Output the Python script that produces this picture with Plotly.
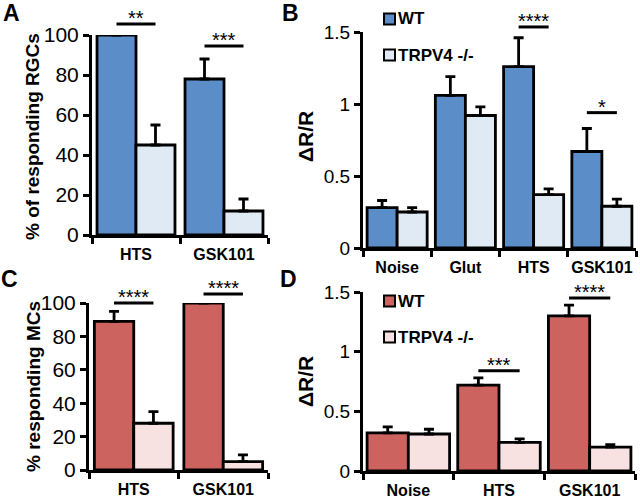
import plotly.graph_objects as go

W, H = 640, 502
FONT = "Liberation Sans, Arial, sans-serif"
BLUE, LBLUE = "#5b8dc9", "#e0eaf4"
RED, PINK = "#cd635f", "#f7e2e1"

# A: % of responding RGCs
catsA = ["HTS", "GSK101"]
wtA = [100, 78]
wtA_err = [0, 10]
koA = [45, 12]
koA_err = [10, 6]

# B: RGC dR/R
catsB = ["Noise", "Glut", "HTS", "GSK101"]
wtB = [0.28, 1.06, 1.26, 0.67]
wtB_err = [0.05, 0.13, 0.20, 0.16]
koB = [0.25, 0.92, 0.37, 0.29]
koB_err = [0.03, 0.06, 0.04, 0.05]

# C: % responding MCs
catsC = ["HTS", "GSK101"]
wtC = [89, 100]
wtC_err = [6, 0]
koC = [28, 5]
koC_err = [7, 4]

# D: MC dR/R
catsD = ["Noise", "HTS", "GSK101"]
wtD = [0.32, 0.72, 1.30]
wtD_err = [0.05, 0.06, 0.09]
koD = [0.31, 0.24, 0.20]
koD_err = [0.04, 0.03, 0.02]

# significance: (category index, bar height, stars)
sigA = [(0, 105.5, "**"), (1, 94.5, "***")]
sigB = [(2, 1.535, "****"), (3, 0.94, "*")]
sigC = [(0, 100, "****"), (1, 105.4, "****")]
sigD = [(1, 0.84, "***"), (2, 1.45, "****")]


def px_x(p):
    return p / W


def px_y(p):
    return 1 - p / H


panels = [
    dict(n="", cats=catsA, wt=wtA, wte=wtA_err, ko=koA, koe=koA_err, sig=sigA,
         c1=BLUE, c2=LBLUE, xp=(92, 268), yp=(235, 35), ymax=100, dt=20, bw=0.443, fs=21),
    dict(n="2", cats=catsB, wt=wtB, wte=wtB_err, ko=koB, koe=koB_err, sig=sigB,
         c1=BLUE, c2=LBLUE, xp=(363, 636), yp=(248, 32), ymax=1.5, dt=0.5, bw=0.44, fs=19),
    dict(n="3", cats=catsC, wt=wtC, wte=wtC_err, ko=koC, koe=koC_err, sig=sigC,
         c1=RED, c2=PINK, xp=(89, 268), yp=(470, 303), ymax=100, dt=20, bw=0.44, fs=21),
    dict(n="4", cats=catsD, wt=wtD, wte=wtD_err, ko=koD, koe=koD_err, sig=sigD,
         c1=RED, c2=PINK, xp=(363, 635), yp=(471, 292), ymax=1.5, dt=0.5, bw=0.455, fs=19),
]

fig = go.Figure()
shapes = []
annos = []
layout = {}

for p in panels:
    xa, ya = "x" + p["n"], "y" + p["n"]
    for vals, errs, col, off, name in [(p["wt"], p["wte"], p["c1"], -p["bw"], "WT"),
                                       (p["ko"], p["koe"], p["c2"], 0, "TRPV4 -/-")]:
        fig.add_trace(go.Bar(
            x=p["cats"], y=vals, name=name, xaxis=xa, yaxis=ya,
            width=p["bw"], offset=off, showlegend=False,
            marker=dict(color=col, line=dict(color="black", width=2.8)),
            error_y=dict(type="data", symmetric=False, array=errs,
                         arrayminus=[0] * len(errs), color="black",
                         thickness=2.8, width=5),
        ))
    y0, y1 = px_y(p["yp"][0]), px_y(p["yp"][1])
    layout["xaxis" + p["n"]] = dict(
        domain=[px_x(p["xp"][0]), px_x(p["xp"][1])], anchor=ya,
        range=[-0.5, len(p["cats"]) - 0.5], type="category", automargin=False,
        showline=True, linewidth=3, linecolor="black", showgrid=False,
        ticks="outside", tickson="boundaries", ticklen=6, tickwidth=2.5,
        tickcolor="black", ticklabelstandoff=3, tickangle=0,
        tickfont=dict(family=FONT, size=16, color="black", weight="bold"),
    )
    layout["yaxis" + p["n"]] = dict(
        domain=[y0, y1], anchor=xa, range=[0, p["ymax"]], dtick=p["dt"],
        automargin=False,
        showline=True, linewidth=3, linecolor="black", showgrid=False,
        zeroline=False, ticks="outside", ticklen=6, tickwidth=2.5,
        tickcolor="black", tickfont=dict(family=FONT, size=p["fs"], color="black"),
    )
    for i, h, stars in p["sig"]:
        yy = y0 + h / p["ymax"] * (y1 - y0)
        shapes.append(dict(type="line", xref=xa, yref="paper",
                           x0=i - p["bw"] / 2, x1=i + p["bw"] / 2, y0=yy, y1=yy,
                           line=dict(color="black", width=3)))
        annos.append(dict(xref=xa, yref="paper", x=i, y=yy, text=stars,
                          showarrow=False, yanchor="bottom", yshift=-7,
                          font=dict(family=FONT, size=20, color="black")))

# panel letters
for t, x, y in [("A", 11, 13), ("B", 290, 13), ("C", 9, 279), ("D", 288, 279)]:
    annos.append(dict(xref="paper", yref="paper", x=px_x(x), y=px_y(y), text=t,
                      showarrow=False, xanchor="center", yanchor="middle",
                      font=dict(family=FONT, size=23, color="black", weight="bold")))

# y titles
for t, x, y, s in [("% of responding RGCs", 32, 137, 19), ("ΔR/R", 305, 137, 21),
                   ("% responding MCs", 33, 387, 19), ("ΔR/R", 305, 382, 21)]:
    annos.append(dict(xref="paper", yref="paper", x=px_x(x), y=px_y(y), text=t,
                      textangle=-90, showarrow=False, xanchor="center", yanchor="middle",
                      font=dict(family=FONT, size=s, color="black", weight="bold")))

# legends
for top, c1, c2 in [(19, BLUE, LBLUE), (301, RED, PINK)]:
    for cy, col, lab in [(top, c1, "WT"), (top + 36, c2, "TRPV4 -/-")]:
        shapes.append(dict(type="rect", xref="paper", yref="paper",
                           x0=px_x(384), x1=px_x(395), y0=px_y(cy + 5.5), y1=px_y(cy - 5.5),
                           fillcolor=col, line=dict(color="black", width=2)))
        annos.append(dict(xref="paper", yref="paper", x=px_x(396), y=px_y(cy), text=lab,
                          showarrow=False, xanchor="left", yanchor="middle",
                          font=dict(family=FONT, size=17, color="black", weight="bold")))

fig.update_layout(
    width=W, height=H, margin=dict(l=0, r=0, t=0, b=0, autoexpand=False),
    paper_bgcolor="white", plot_bgcolor="white", showlegend=False,
    barmode="overlay", shapes=shapes, annotations=annos, **layout,
)

# page has a default 8px body margin; drop it so the figure sits at 0,0
fig.write_html("out.html", config={"displayModeBar": False},
               post_script="document.body.style.margin = '0';")
